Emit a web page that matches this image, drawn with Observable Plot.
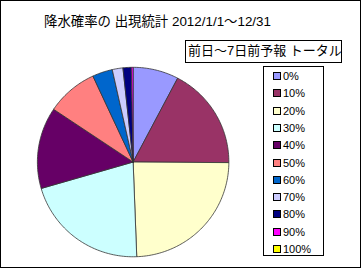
<!DOCTYPE html>
<html>
<head>
<meta charset="utf-8">
<script src="https://cdn.jsdelivr.net/npm/d3@7"></script>
<script src="https://cdn.jsdelivr.net/npm/@observablehq/plot@0.6"></script>
<style>
  html, body { margin: 0; padding: 0; background: #fff; }
  #wrap { position: relative; width: 361px; height: 268px; box-sizing: border-box; border: 1px solid #000; overflow: hidden; font-family: "Liberation Sans", "Noto Sans CJK JP", sans-serif; }
  #chart { position: absolute; left: -1px; top: -1px; }
  #title { position: absolute; left: 43px; top: 12px; font-size: 13.4px; line-height: 18px; white-space: nowrap; color: #000; }
  #sub { position: absolute; left: 184px; top: 39px; width: 157px; height: 23px; box-sizing: border-box; border: 1px solid #000; font-size: 13px; line-height: 20px; padding-left: 2px; white-space: nowrap; }
  #legend { position: absolute; left: 262px; top: 65px; width: 61px; height: 190px; box-sizing: border-box; border: 1px solid #000; }
  .item { position: absolute; left: 9px; height: 12px; font-size: 11px; line-height: 12px; white-space: nowrap; display: flex; align-items: center; }
  .sw { width: 6px; height: 6px; border: 1px solid #000; margin-right: 2px; }
</style>
</head>
<body>
<div id="wrap">
  <div id="chart"></div>
  <div id="title"></div>
  <div id="sub"></div>
  <div id="legend"></div>
</div>
<script>
const titleText = "降水確率の 出現統計 2012/1/1～12/31";
const subtitleText = "前日～7日前予報 トータル";
const categories = ["0%", "10%", "20%", "30%", "40%", "50%", "60%", "70%", "80%", "90%", "100%"];
const shares = [7.7, 17.4, 24.3, 21.1, 13.9, 8.7, 3.4, 1.8, 1.4, 0.3, 0];
const colors = ["#9999FF", "#993366", "#FFFFCC", "#CCFFFF", "#660066", "#FF8080", "#0066CC", "#CCCCFF", "#000080", "#FF00FF", "#FFFF00"];

const slices = categories.map((c, i) => ({cat: c, value: shares[i]}));
const arcs = d3.pie().sort(null).value(d => d.value)(slices);
const pts = [];
for (const a of arcs) {
  if (a.endAngle - a.startAngle <= 0) continue;
  const cat = a.data.cat;
  pts.push({cat, x: 0, y: 0});
  const n = Math.max(2, Math.ceil((a.endAngle - a.startAngle) / (Math.PI / 180)));
  for (let k = 0; k <= n; k++) {
    const t = a.startAngle + (a.endAngle - a.startAngle) * k / n;
    pts.push({cat, x: Math.sin(t), y: Math.cos(t)});
  }
  pts.push({cat, x: 0, y: 0});
}

const plot = Plot.plot({
  width: 361,
  height: 268,
  marginLeft: 37,
  marginRight: 132,
  marginTop: 67,
  marginBottom: 11,
  x: {domain: [-1, 1], axis: null},
  y: {domain: [-1, 1], axis: null},
  color: {domain: categories, range: colors},
  style: {background: "transparent"},
  marks: [
    Plot.line(pts, {x: "x", y: "y", z: "cat", fill: "cat", stroke: "#333", strokeWidth: 0.8, curve: "linear"})
  ]
});
document.getElementById("chart").appendChild(plot);

document.getElementById("title").textContent = titleText;
document.getElementById("sub").textContent = subtitleText;
const leg = document.getElementById("legend");
categories.forEach((c, i) => {
  const it = document.createElement("div");
  it.className = "item";
  it.style.top = (3 + i * 17.3) + "px";
  const sw = document.createElement("span");
  sw.className = "sw";
  sw.style.background = colors[i];
  const tx = document.createElement("span");
  tx.textContent = c;
  it.appendChild(sw);
  it.appendChild(tx);
  leg.appendChild(it);
});
</script>
</body>
</html>
